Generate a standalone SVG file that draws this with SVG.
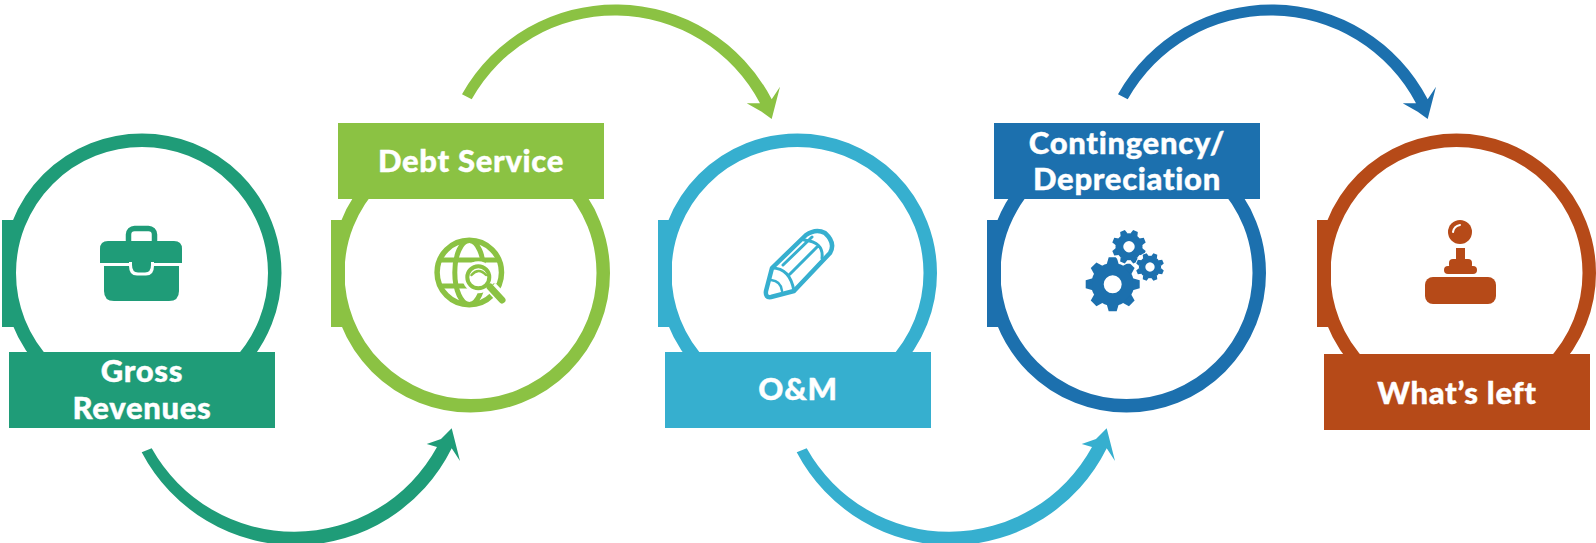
<svg xmlns="http://www.w3.org/2000/svg" xmlns:xlink="http://www.w3.org/1999/xlink" width="1596" height="543" viewBox="0 0 1596 543">
<style>
.lbl{font-family:Lato,"Liberation Sans",sans-serif;font-weight:900;font-size:31px;letter-spacing:.7px;fill:#fff;stroke:#fff;stroke-width:.4px;text-anchor:middle}
.ring{fill:none;stroke-width:13.500}
.c1{fill:#1f9c78;stroke:#1f9c78;color:#1f9c78}
.c2{fill:#8bc243;stroke:#8bc243;color:#8bc243}
.c3{fill:#36afcf;stroke:#36afcf;color:#36afcf}
.c4{fill:#1c70ae;stroke:#1c70ae;color:#1c70ae}
.c5{fill:#b64a18;stroke:#b64a18;color:#b64a18}
.ns{stroke:none}
.line{fill:none;stroke-linecap:round;stroke-linejoin:round}
.arrow{stroke:none}
.hole{fill:#fff;stroke:none}
</style>
<defs>
<path id="arrowDown" class="arrow" d="M141.700 452.300A174 174 0 0 0 451.700 448.300L460 461L451.700 428.300L441 439L426.700 444L437 447A163 163 0 0 1 151.700 448.300Z"/>
<path id="arrowUp" class="arrow" d="M462 94.300A176 176 0 0 1 771.700 99.300L780 86.700L771.700 119L761.700 111.700L746.700 103.300L760 103.300A164 164 0 0 0 471.700 99.300Z"/>
<path id="tooth" d="M-6-20L-4-27H4L6-20Z" stroke="none"/>
<g id="gear">
<circle r="15.200" fill="none" stroke-width="12.400"/>
<use href="#tooth"/>
<use href="#tooth" transform="rotate(45)"/>
<use href="#tooth" transform="rotate(90)"/>
<use href="#tooth" transform="rotate(135)"/>
<use href="#tooth" transform="rotate(180)"/>
<use href="#tooth" transform="rotate(225)"/>
<use href="#tooth" transform="rotate(270)"/>
<use href="#tooth" transform="rotate(315)"/>
</g>
</defs>

<g id="connectors">
<use href="#arrowDown" class="c1"/>
<use href="#arrowUp" class="c2"/>
<use href="#arrowDown" class="c3" x="655"/>
<use href="#arrowUp" class="c4" x="656"/>
</g>

<g id="node-gross-revenues">
<circle class="ring c1" style="fill:none" cx="142" cy="273" r="132.750"/>
<rect class="c1 ns" x="2" y="220" width="14" height="107"/>
<rect class="c1 ns" x="9" y="352" width="266" height="76"/>
<text class="lbl" x="142" y="382">Gross</text>
<text class="lbl" x="142" y="419">Revenues</text>
<g class="c1">
<rect x="128.500" y="228.500" width="26" height="18" rx="6" style="fill:none" stroke-width="5.500"/>
<path class="ns" d="M108 241H174Q182 241 182 249V263H100V249Q100 241 108 241Z"/>
<path class="ns" d="M104 266H179V291Q179 301 169 301H114Q104 301 104 291Z"/>
<path class="hole" d="M129 262H154V266Q154 275.500 146 275.500H137Q129 275.500 129 266Z"/>
<path class="ns" d="M132 262H151V265Q151 272.500 145 272.500H138Q132 272.500 132 265Z"/>
</g>
</g>

<g id="node-debt-service">
<circle class="ring c2" style="fill:none" cx="470.500" cy="273" r="132.750"/>
<rect class="c2 ns" x="331" y="220" width="14" height="107"/>
<rect class="c2 ns" x="338" y="123" width="266" height="76"/>
<text class="lbl" x="471" y="172">Debt Service</text>
<g class="c2">
<circle class="line" cx="469.300" cy="272.500" r="32.200" stroke-width="5.500"/>
<ellipse class="line" cx="469.300" cy="272.500" rx="14.500" ry="32" stroke-width="5"/>
<path class="line" d="M441 260H497M441 286H497" stroke-width="5"/>
<circle cx="478.300" cy="277.300" r="16" class="hole"/>
<path d="M491 287L508 305" stroke="#fff" stroke-width="12" fill="none"/>
<circle class="line" cx="478.300" cy="277.300" r="11" stroke-width="4"/>
<path class="line" d="M471.500 275Q478.500 267 486 275" stroke-width="2.500"/>
<path class="line" d="M490 287L502 300" stroke-width="7"/>
</g>
</g>

<g id="node-om">
<circle class="ring c3" style="fill:none" cx="797.500" cy="273" r="132.750"/>
<rect class="c3 ns" x="658" y="220" width="14" height="107"/>
<rect class="c3 ns" x="665" y="352" width="266" height="76"/>
<text class="lbl" x="798" y="400">O&amp;M</text>
<g class="c3">
<path class="line" stroke-width="4.500" d="M772 268L806 235Q816 228 825 233Q836 243 830 253L794 291L771 297Q765 298 766 291Z"/>
<path class="line" stroke-width="3" d="M772 268Q790 268 794 291M804 240Q824 242 822 258M783 265L812 237M790 274L818 246"/>
<path class="line" stroke-width="2.500" d="M771 280Q781 281 782 291"/>
</g>
</g>

<g id="node-contingency">
<circle class="ring c4" style="fill:none" cx="1126.500" cy="273" r="132.750"/>
<rect class="c4 ns" x="987" y="220" width="14" height="107"/>
<rect class="c4 ns" x="994" y="123" width="266" height="76"/>
<text class="lbl" x="1127" y="154">Contingency/</text>
<text class="lbl" x="1127" y="190">Depreciation</text>
<g class="c4">
<use href="#gear" transform="translate(1112.700 284.300)"/>
<circle class="hole" cx="1129" cy="246.700" r="17"/>
<use href="#gear" transform="translate(1129 246.700) scale(.63) rotate(22.500)"/>
<circle class="hole" cx="1150" cy="267" r="15"/>
<use href="#gear" transform="translate(1150 267) scale(.52) rotate(22.500)"/>
</g>
</g>

<g id="node-whats-left">
<circle class="ring c5" style="fill:none" cx="1456.500" cy="273" r="132.750"/>
<rect class="c5 ns" x="1317" y="220" width="14" height="107"/>
<rect class="c5 ns" x="1324" y="354" width="266" height="76"/>
<text class="lbl" x="1457" y="403.500">What’s left</text>
<g class="c5">
<circle class="ns" cx="1460" cy="232" r="12"/>
<path d="M1453 232Q1454 226 1460 225" fill="none" stroke="#fff" stroke-width="2" stroke-linecap="round"/>
<rect class="ns" x="1456" y="248" width="9" height="14"/>
<rect class="ns" x="1449" y="259" width="23" height="10" rx="4"/>
<rect class="ns" x="1444" y="266" width="33" height="8" rx="4"/>
<rect class="ns" x="1425" y="277" width="71" height="27" rx="8"/>
</g>
</g>
</svg>
